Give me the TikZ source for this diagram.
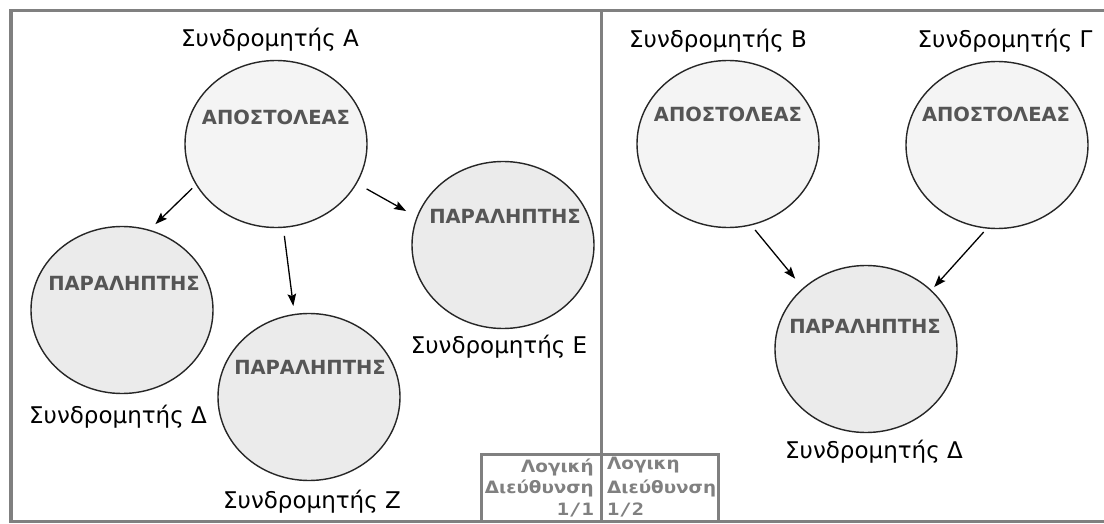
\documentclass[tikz,border=0pt]{standalone}
\usepackage{fontspec}
\setmainfont{DejaVu Sans}
\newfontfamily\addrfont{DejaVu Sans}[FakeStretch=1.08]
\newfontfamily\addrmono{DejaVu Sans Mono}[FakeStretch=1.2]
\usetikzlibrary{shapes.geometric,arrows.meta}
\definecolor{framegray}{HTML}{808080}
\definecolor{capgray}{HTML}{555555}
\definecolor{senderfill}{HTML}{F4F4F4}
\definecolor{receiverfill}{HTML}{EBEBEB}
\tikzset{
  frameline/.style={draw=framegray, line width=3.5pt},
  party/.style={ellipse, draw=black!85, line width=1.4pt, inner sep=0pt,
                minimum width=182pt, minimum height=167pt},
  sender/.style={party, fill=senderfill},
  receiver/.style={party, fill=receiverfill},
  role/.style={inner sep=0pt, text=capgray, font=\bfseries\fontsize{19.5}{22}\selectfont},
  subscriber/.style={inner sep=0pt, anchor=base, font=\fontsize{23}{26}\selectfont},
  addr/.style={inner sep=0pt, text=framegray, font=\addrfont\bfseries\fontsize{17}{20}\selectfont},
  msg/.style={draw=black, line width=1.3pt, -{Stealth[length=12pt,width=8.5pt,inset=2pt]}}
}
\begin{document}
\begin{tikzpicture}[x=1pt, y=-1pt]
\useasboundingbox (0,0) rectangle (1104,524);
\fill[white] (0,0) rectangle (1104,524);

% outer frame, divider and the address box
\draw[frameline] (1104,10.5) -- (11,10.5) -- (11,521.5) -- (1104,521.5);
\draw[frameline] (601.5,10.5) -- (601.5,521.5);
\draw[frameline] (481.5,521.5) -- (481.5,454.5) -- (718.5,454.5) -- (718.5,521.5);

% left panel: one sender, three receivers
\node[sender]   (sA)  at (276,144) {};
\node[receiver] (rDl) at (122,310) {};
\node[receiver] (rZ)  at (309,397) {};
\node[receiver] (rE)  at (503,245) {};
\node[role] (tA)  at (276,117)   {ΑΠΟΣΤΟΛΕΑΣ};
\node[role] (tDl) at (124,283)   {ΠΑΡΑΛΗΠΤΗΣ};
\node[role] (tZ)  at (310,367)   {ΠΑΡΑΛΗΠΤΗΣ};
\node[role] (tE)  at (505,216.5) {ΠΑΡΑΛΗΠΤΗΣ};
\node[subscriber] (lA)  at (270,47)  {Συνδρομητής Α};
\node[subscriber] (lDl) at (118,423) {Συνδρομητής Δ};
\node[subscriber] (lZ)  at (312,508) {Συνδρομητής Ζ};
\node[subscriber] (lE)  at (499,353) {Συνδρομητής Ε};

% right panel: two senders, one receiver
\node[sender]   (sB) at (728,144) {};
\node[sender]   (sG) at (997,145) {};
\node[receiver] (rD) at (866,349) {};
\node[role] (tB) at (728,114.5) {ΑΠΟΣΤΟΛΕΑΣ};
\node[role] (tG) at (996,114.5) {ΑΠΟΣΤΟΛΕΑΣ};
\node[role] (tD) at (865,326.5) {ΠΑΡΑΛΗΠΤΗΣ};
\node[subscriber] (lB) at (718,48)  {Συνδρομητής Β};
\node[subscriber] (lG) at (1005,48) {Συνδρομητής Γ};
\node[subscriber] (lD) at (874,458) {Συνδρομητής Δ};

% messages
\draw[msg, shorten <=5pt,  shorten >=8pt]  (sA.207) -- (rDl.71);
\draw[msg, shorten <=8pt,  shorten >=8pt]  (sA.275) -- (rZ.100);
\draw[msg, shorten <=11pt, shorten >=12pt] (sA.334) -- (rE.162);
\draw[msg, shorten <=6pt,  shorten >=12pt] (sB.286) -- (rD.136);
\draw[msg, shorten <=4.5pt, shorten >=4pt] (sG.263) -- (rD.42);

% logical addresses
\node[addr, anchor=base east] (a1a) at (594,472) {Λογική};
\node[addr, anchor=base east] (a1b) at (594,493) {Διεύθυνση};
\node[addr, anchor=base east] (a1c) at (594,515) {\addrmono\bfseries 1/1};
\node[addr, anchor=base west] (a2a) at (607,469) {Λογικη};
\node[addr, anchor=base west] (a2b) at (607,493) {Διεύθυνση};
\node[addr, anchor=base west] (a2c) at (607,515) {\addrmono\bfseries 1/2};
\end{tikzpicture}
\end{document}
